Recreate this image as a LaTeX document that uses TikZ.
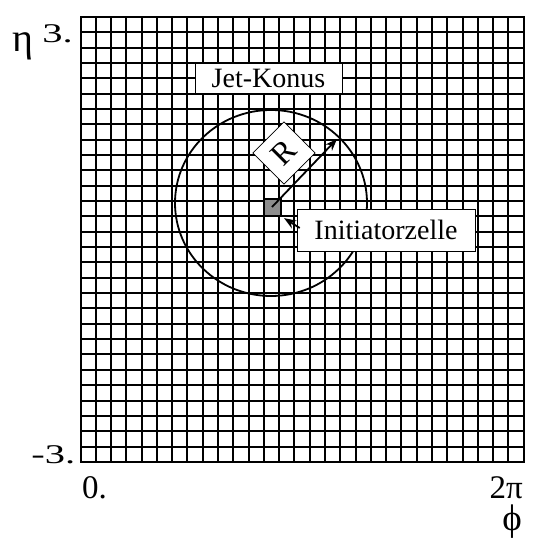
\documentclass[tikz,border=0pt]{standalone}
\usepackage{fontspec}
\setmainfont{Liberation Serif}
\usetikzlibrary{arrows.meta}

\begin{document}
\begin{tikzpicture}[x=1pt,y=-1pt,
        gridline/.style={line width=2pt,line cap=rect},
        labelbox/.style={draw,line width=0.6pt,fill=white,inner sep=0pt,font=\fontsize{28}{30}\selectfont},
        axlab/.style={inner sep=0pt,xscale=1.5,font=\fontsize{27}{29}\selectfont},
        biglab/.style={inner sep=0pt,font=\fontsize{33}{35}\selectfont},
        greek/.style={inner sep=0pt,font=\fontsize{40}{42}\selectfont},
        ptr/.style={line width=1.8pt,-{Stealth[length=12pt,width=9pt]}}]
    \useasboundingbox (0,0) rectangle (533,540);
    \foreach \i in {0,...,29} \draw[gridline] ({80.5+15.28*\i},17) -- ({80.5+15.28*\i},462);
    \foreach \j in {0,...,29} \draw[gridline] (80.5,{17+15.34*\j}) -- (523.6,{17+15.34*\j});

    \coordinate (cone) at (271,203);
    \draw[line width=1.8pt] (cone) ellipse [x radius=96pt,y radius=93pt];

    \node[draw,line width=2pt,fill=black!45,minimum size=17pt,inner sep=0pt] (cell) at (272,207) {};
    \node[labelbox,minimum width=147pt,minimum height=30pt] (jet) at (268.5,78) {Jet-Konus};
    \node[labelbox,minimum width=178pt,minimum height=42pt] (init) at (386,230) {Initiatorzelle};
    \coordinate (rim) at (337,139);
    \draw[ptr] (cell.center) -- (rim);
    \node[labelbox,rotate=45,minimum width=44pt,minimum height=44pt,font=\fontsize{32}{34}\selectfont] (rad) at (284,153) {R};
    \draw[ptr,shorten >=3pt] ([xshift=3pt,yshift=2pt]init.west) -- (cell.south east);

    \node[greek] (eta) at (22.5,46) {η};
    \node[axlab,anchor=base west] (etamax) at (42,43) {3.};
    \node[axlab,anchor=base west] (etamin) at (31,463) {-3.};
    \node[biglab,anchor=base west] (phimin) at (82,498) {0.};
    \node[biglab,anchor=base east] (phimax) at (523,498) {2π};
    \node[greek,font=\fontsize{37}{39}\selectfont] (phi) at (512,522) {ϕ};
\end{tikzpicture}
\end{document}
